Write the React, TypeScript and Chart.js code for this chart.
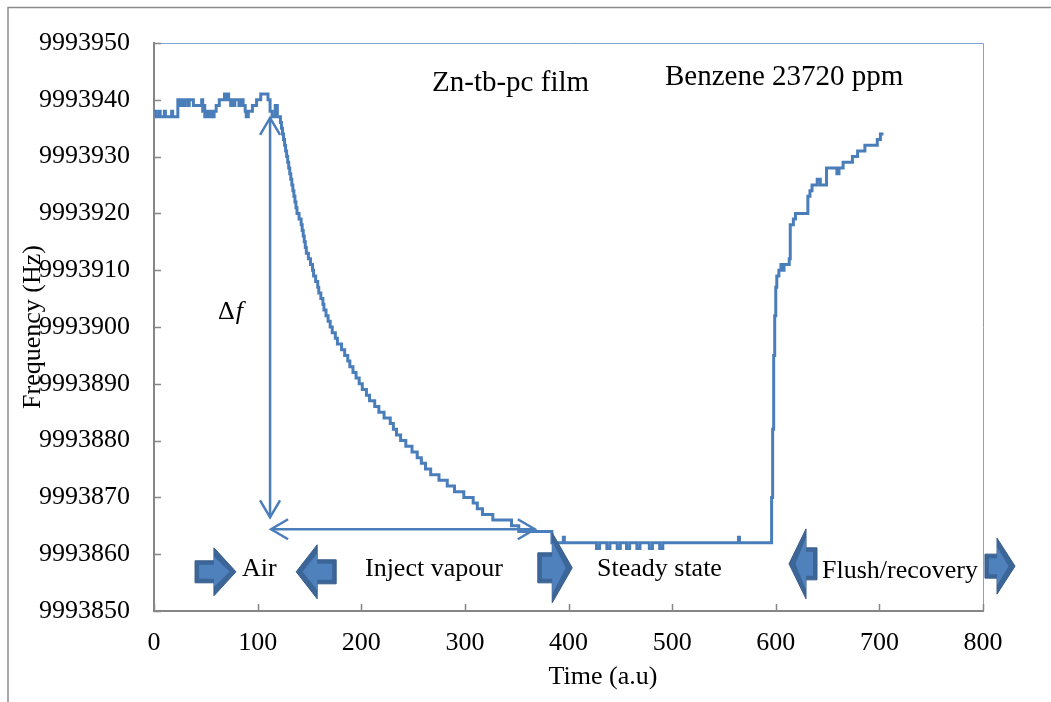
import React, { useEffect, useRef } from "react";
import { Chart, registerables } from "chart.js";

Chart.register(...registerables);

const FONT = "'Liberation Serif', 'Times New Roman', serif";
const LINE_BLUE = "#4a7ebb";

// ---- data (time in a.u., frequency in Hz) ----
const airTime = [0, 2, 5, 6, 10, 11, 17, 18, 23, 25, 26, 28, 30, 33, 34, 38, 46, 47, 48, 49, 50, 52, 54, 56, 58, 60, 63, 68, 69, 71, 72, 74, 75, 77, 78, 82, 84, 86, 88, 89, 91, 95, 99, 103, 110, 112, 114, 117, 119];
const airFreq = [9993938, 9993937, 9993938, 9993937, 9993938, 9993937, 9993938, 9993937, 9993940, 9993939, 9993940, 9993939, 9993940, 9993939, 9993940, 9993939, 9993940, 9993938, 9993939, 9993937, 9993938, 9993937, 9993938, 9993937, 9993938, 9993939, 9993940, 9993941, 9993940, 9993941, 9993940, 9993939, 9993940, 9993939, 9993940, 9993939, 9993940, 9993939, 9993938, 9993937, 9993938, 9993939, 9993940, 9993941, 9993940, 9993938, 9993937, 9993939, 9993937];

const injectTime = [122, 123, 124, 125, 126, 127, 128, 129, 130, 131, 132, 133, 134, 135, 136, 137, 138, 140, 142, 143, 144, 145, 146, 147, 149, 151, 153, 154, 156, 158, 159, 161, 163, 164, 166, 168, 170, 172, 175, 177, 181, 184, 187, 189, 192, 195, 198, 201, 205, 208, 213, 217, 222, 228, 231, 234, 238, 243, 249, 254, 258, 262, 267, 275, 283, 290, 299, 308, 312, 317, 327, 345, 352];
const injectFreq = [9993936, 9993935, 9993934, 9993933, 9993932, 9993931, 9993930, 9993929, 9993928, 9993927, 9993926, 9993925, 9993924, 9993923, 9993922, 9993921, 9993920, 9993919, 9993918, 9993917, 9993916, 9993915, 9993914, 9993913, 9993912, 9993911, 9993910, 9993909, 9993908, 9993907, 9993906, 9993905, 9993904, 9993903, 9993902, 9993901, 9993900, 9993899, 9993898, 9993897, 9993896, 9993895, 9993894, 9993893, 9993892, 9993891, 9993890, 9993889, 9993888, 9993887, 9993886, 9993885, 9993884, 9993883, 9993882, 9993881, 9993880, 9993879, 9993878, 9993877, 9993876, 9993875, 9993874, 9993873, 9993872, 9993871, 9993870, 9993869, 9993868, 9993867, 9993866, 9993865, 9993864];

const steadyTime = [384, 395, 396, 427, 430, 437, 440, 447, 450, 456, 459, 466, 469, 478, 481, 488, 491, 564, 565];
const steadyFreq = [9993862, 9993863, 9993862, 9993861, 9993862, 9993861, 9993862, 9993861, 9993862, 9993861, 9993862, 9993861, 9993862, 9993861, 9993862, 9993861, 9993862, 9993863, 9993862];

const flushTime = [596, 597, 598, 599, 600, 601, 603, 605, 607, 608, 613, 614, 617, 619, 631, 633, 635, 640, 643, 649, 659, 661, 665, 674, 679, 686, 698, 701, 704];
const flushFreq = [9993870, 9993882, 9993895, 9993902, 9993907, 9993909, 9993910, 9993911, 9993910, 9993911, 9993912, 9993918, 9993919, 9993920, 9993923, 9993924, 9993925, 9993926, 9993925, 9993928, 9993927, 9993928, 9993929, 9993930, 9993931, 9993932, 9993933, 9993934, 9993934];

const xTicks = [0, 100, 200, 300, 400, 500, 600, 700, 800];
const yTicks = [9993850, 9993860, 9993870, 9993880, 9993890, 9993900, 9993910, 9993920, 9993930, 9993940, 9993950];

// ---- annotations (data coordinates) ----
const deltaVertical = { t: 112, fTop: 9993936.8, fBottom: 9993866.5 };
const deltaHorizontal = { f: 9993864.4, tLeft: 113, tRight: 367.5 };
const deltaLabel = { t: 61.8, f: 9993901.4 };

const phaseLabels = [
  { text: "Air", t: 85, f: 9993856.2, size: 26 },
  { text: "Inject vapour", t: 203.6, f: 9993856.2, size: 26 },
  { text: "Steady state", t: 427.5, f: 9993856.2, size: 26 },
  { text: "Flush/recovery", t: 644.6, f: 9993855.8, size: 26 },
  { text: "Zn-tb-pc film", t: 268.3, f: 9993941.5, size: 29 },
  { text: "Benzene 23720 ppm", t: 493.1, f: 9993942.6, size: 29 },
];

// block arrows: tail/tip in time units, centre in Hz, sizes in px
const blockArrows = [
  { tail: 39.6, tip: 79.1, f: 9993856.9, sh: 11, hh: 24, hl: 22 },
  { tail: 175.8, tip: 137.2, f: 9993856.9, sh: 12, hh: 27, hl: 21 },
  { tail: 370.4, tip: 403.6, f: 9993857.6, sh: 15, hh: 35, hl: 20 },
  { tail: 639.8, tip: 612.8, f: 9993858.3, sh: 16, hh: 35, hl: 17 },
  { tail: 801.9, tip: 830.9, f: 9993857.9, sh: 12, hh: 28, hl: 18 },
];

function toPoints(ts: number[], fs: number[]) {
  return ts.map((t, i) => ({ x: t, y: fs[i] }));
}

const seriesPoints = [
  ...toPoints(airTime, airFreq),
  ...toPoints(injectTime, injectFreq),
  ...toPoints(steadyTime, steadyFreq),
  ...toPoints(flushTime, flushFreq),
];

function openHead(ctx: CanvasRenderingContext2D, tipX: number, tipY: number, dx: number, dy: number) {
  const len = 17;
  const half = 10;
  const bx = tipX + dx * len;
  const by = tipY + dy * len;
  const px = -dy;
  const py = dx;
  ctx.beginPath();
  ctx.moveTo(bx + px * half, by + py * half);
  ctx.lineTo(tipX, tipY);
  ctx.lineTo(bx - px * half, by - py * half);
  ctx.stroke();
}

const framePlugin = {
  id: "frame",
  beforeDraw(chart: any) {
    const ctx = chart.ctx as CanvasRenderingContext2D;
    ctx.save();
    ctx.fillStyle = "#ffffff";
    ctx.fillRect(0, 0, chart.width, chart.height);
    ctx.strokeStyle = "#8c8c8c";
    ctx.lineWidth = 1.5;
    ctx.beginPath();
    ctx.moveTo(8, chart.height);
    ctx.lineTo(8, 7.5);
    ctx.lineTo(chart.width, 7.5);
    ctx.stroke();
    ctx.restore();
  },
  afterDraw(chart: any) {
    const ctx = chart.ctx as CanvasRenderingContext2D;
    const a = chart.chartArea;
    const xs = chart.scales.x;
    const ys = chart.scales.y;
    ctx.save();

    // top/right plot border
    ctx.strokeStyle = "#7aa3d6";
    ctx.lineWidth = 1;
    ctx.beginPath();
    ctx.moveTo(a.left, a.top + 0.5);
    ctx.lineTo(a.right + 0.5, a.top + 0.5);
    ctx.lineTo(a.right + 0.5, a.bottom);
    ctx.stroke();

    // inside tick marks
    ctx.strokeStyle = "#868686";
    ctx.lineWidth = 1.5;
    ctx.beginPath();
    xTicks.forEach((v) => {
      const px = Math.round(xs.getPixelForValue(v)) + 0.5;
      ctx.moveTo(px, a.bottom);
      ctx.lineTo(px, a.bottom - 7);
    });
    yTicks.forEach((v) => {
      const py = Math.round(ys.getPixelForValue(v)) + 0.5;
      ctx.moveTo(a.left, py);
      ctx.lineTo(a.left + 7, py);
    });
    ctx.stroke();

    // delta-f arrows
    ctx.strokeStyle = LINE_BLUE;
    ctx.lineWidth = 2.5;
    ctx.lineCap = "butt";
    const vx = xs.getPixelForValue(deltaVertical.t);
    const vTop = ys.getPixelForValue(deltaVertical.fTop);
    const vBot = ys.getPixelForValue(deltaVertical.fBottom);
    ctx.beginPath();
    ctx.moveTo(vx, vTop);
    ctx.lineTo(vx, vBot);
    ctx.stroke();
    openHead(ctx, vx, vTop, 0, 1);
    openHead(ctx, vx, vBot, 0, -1);
    const hy = ys.getPixelForValue(deltaHorizontal.f);
    const hL = xs.getPixelForValue(deltaHorizontal.tLeft);
    const hR = xs.getPixelForValue(deltaHorizontal.tRight);
    ctx.beginPath();
    ctx.moveTo(hL, hy);
    ctx.lineTo(hR, hy);
    ctx.stroke();
    openHead(ctx, hL, hy, 1, 0);
    openHead(ctx, hR, hy, -1, 0);

    // block arrows
    blockArrows.forEach((b) => {
      const x0 = xs.getPixelForValue(b.tail);
      const x1 = xs.getPixelForValue(b.tip);
      const yc = ys.getPixelForValue(b.f);
      const dir = x1 > x0 ? 1 : -1;
      const xb = x1 - dir * b.hl;
      ctx.beginPath();
      ctx.moveTo(x0, yc - b.sh);
      ctx.lineTo(xb, yc - b.sh);
      ctx.lineTo(xb, yc - b.hh);
      ctx.lineTo(x1, yc);
      ctx.lineTo(xb, yc + b.hh);
      ctx.lineTo(xb, yc + b.sh);
      ctx.lineTo(x0, yc + b.sh);
      ctx.closePath();
      ctx.fillStyle = "#3d6698";
      ctx.fill();
      ctx.lineJoin = "miter";
      ctx.strokeStyle = "#385d8a";
      ctx.lineWidth = 1;
      ctx.stroke();
      const ins = 4;
      ctx.beginPath();
      ctx.moveTo(x0 + dir * ins, yc - b.sh + ins);
      ctx.lineTo(xb, yc - b.sh + ins);
      ctx.lineTo(xb, yc - b.hh + ins * 2.2);
      ctx.lineTo(x1 - dir * ins * 1.6, yc);
      ctx.lineTo(xb, yc + b.hh - ins * 2.2);
      ctx.lineTo(xb, yc + b.sh - ins);
      ctx.lineTo(x0 + dir * ins, yc + b.sh - ins);
      ctx.closePath();
      ctx.fillStyle = "#4f81bd";
      ctx.fill();
    });

    // texts
    ctx.fillStyle = "#000000";
    ctx.textBaseline = "alphabetic";
    ctx.textAlign = "left";
    phaseLabels.forEach((l) => {
      ctx.font = `${l.size}px ${FONT}`;
      ctx.fillText(l.text, xs.getPixelForValue(l.t), ys.getPixelForValue(l.f));
    });
    const dx = xs.getPixelForValue(deltaLabel.t);
    const dy = ys.getPixelForValue(deltaLabel.f);
    ctx.font = `26px ${FONT}`;
    ctx.fillText("\u0394", dx, dy);
    const w = ctx.measureText("\u0394").width;
    ctx.font = `italic 26px ${FONT}`;
    ctx.fillText("f", dx + w + 1, dy);

    // axis titles
    ctx.font = `26px ${FONT}`;
    ctx.textAlign = "center";
    ctx.textBaseline = "middle";
    ctx.fillText("Time (a.u)", 603, 677);
    ctx.save();
    ctx.translate(33, 327);
    ctx.rotate(-Math.PI / 2);
    ctx.fillText("Frequency (Hz)", 0, 0);
    ctx.restore();

    ctx.restore();
  },
};

export default function App() {
  const ref = useRef<HTMLCanvasElement>(null);
  useEffect(() => {
    if (!ref.current) return;
    const chart = new Chart(ref.current, {
      type: "line",
      data: {
        datasets: [
          {
            data: seriesPoints,
            borderColor: LINE_BLUE,
            borderWidth: 3,
            pointRadius: 0,
            stepped: "before",
            fill: false,
          },
        ],
      },
      options: {
        responsive: false,
        animation: false,
        devicePixelRatio: 1,
        layout: { padding: { top: 43, right: 68, left: 0, bottom: 0 } },
        plugins: { legend: { display: false }, tooltip: { enabled: false } },
        scales: {
          x: {
            type: "linear",
            min: 0,
            max: 800,
            afterFit: (s: any) => {
              s.height = 91;
            },
            afterBuildTicks: (s: any) => {
              s.ticks = xTicks.map((v) => ({ value: v }));
            },
            grid: { drawOnChartArea: false, drawTicks: false },
            border: { display: true, color: "#868686", width: 2 },
            ticks: {
              padding: 17,
              color: "#000",
              font: { family: FONT, size: 26 },
              maxRotation: 0,
              autoSkip: false,
            },
          },
          y: {
            type: "linear",
            min: 9993850,
            max: 9993950,
            afterFit: (s: any) => {
              s.width = 154;
            },
            afterBuildTicks: (s: any) => {
              s.ticks = yTicks.map((v) => ({ value: v }));
            },
            grid: { drawOnChartArea: false, drawTicks: false },
            border: { display: true, color: "#868686", width: 2 },
            ticks: {
              padding: 24,
              color: "#000",
              font: { family: FONT, size: 26 },
              autoSkip: false,
              callback: (v: any) => String(v),
            },
          },
        },
      },
      plugins: [framePlugin],
    });
    return () => chart.destroy();
  }, []);
  return (
    <div style={{ position: "absolute", left: 0, top: 0, width: 1051, height: 702, background: "#fff" }}>
      <canvas ref={ref} width={1051} height={702} style={{ display: "block", width: 1051, height: 702 }} />
    </div>
  );
}
